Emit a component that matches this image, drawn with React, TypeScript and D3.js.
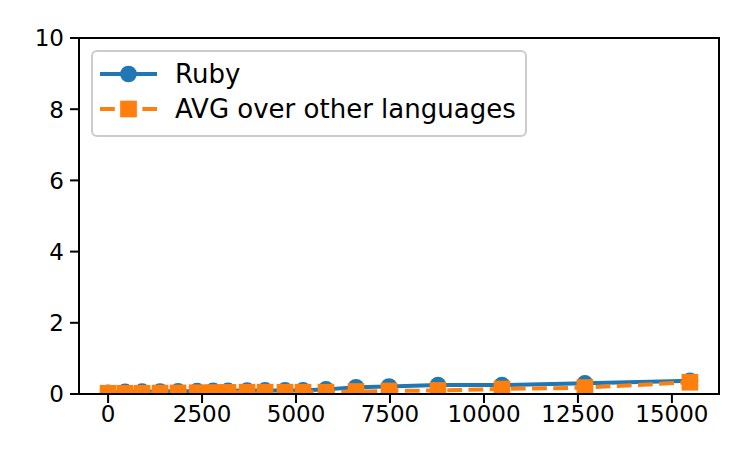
import React from "react";
import * as d3 from "d3";

const xValues = [0, 452, 904, 1383, 1862, 2367, 2793, 3191, 3697, 4176, 4707, 5186, 5798, 6596, 7473, 8777, 10479, 12686, 15479];
const rubyValues = [0.03, 0.06, 0.065, 0.07, 0.075, 0.08, 0.085, 0.09, 0.095, 0.1, 0.1, 0.1, 0.13, 0.19, 0.21, 0.25, 0.25, 0.3, 0.37];
const avgValues = [0.02, 0.02, 0.02, 0.025, 0.03, 0.035, 0.04, 0.045, 0.05, 0.05, 0.05, 0.05, 0.05, 0.07, 0.085, 0.1, 0.14, 0.18, 0.33];
const xTicks = [0, 2500, 5000, 7500, 10000, 12500, 15000];
const yTicks = [0, 2, 4, 6, 8, 10];
const seriesNames = ["Ruby", "AVG over other languages"];

const BLUE = "#1f77b4";
const ORANGE = "#ff7f0e";
const FONT = "DejaVu Sans";

export default function App() {
  const left = 79, right = 719, top = 38, bottom = 394;
  const x = d3.scaleLinear().domain([-774, 16253]).range([left, right]);
  const y = d3.scaleLinear().domain([0, 10]).range([bottom, top]);
  const line = d3.line<[number, number]>().x(d => x(d[0])).y(d => y(d[1]));
  const ruby: [number, number][] = xValues.map((v, i) => [v, rubyValues[i]]);
  const avg: [number, number][] = xValues.map((v, i) => [v, avgValues[i]]);
  const ms = 16.7;
  const lw = 4;
  const tickFs = 23;
  const legFs = 26;

  return (
    <svg width={747} height={467} style={{ position: "absolute", left: 0, top: 0, background: "#fff" }} fontFamily={FONT}>
      <defs>
        <clipPath id="plotclip">
          <rect x={left} y={top} width={right - left} height={bottom - top} />
        </clipPath>
      </defs>
      <rect x={0} y={0} width={747} height={467} fill="#fff" />
      <g clipPath="url(#plotclip)">
        <path d={line(ruby) || ""} fill="none" stroke={BLUE} strokeWidth={lw} strokeLinejoin="round" strokeLinecap="square" />
        {ruby.map((d, i) => (
          <circle key={"r" + i} cx={x(d[0])} cy={y(d[1])} r={ms / 2} fill={BLUE} />
        ))}
        <path d={line(avg) || ""} fill="none" stroke={ORANGE} strokeWidth={lw} strokeDasharray="14.8,6.4" strokeLinejoin="round" />
        {avg.map((d, i) => (
          <rect key={"a" + i} x={x(d[0]) - ms / 2} y={y(d[1]) - ms / 2} width={ms} height={ms} fill={ORANGE} />
        ))}
      </g>
      <rect x={left} y={top} width={right - left} height={bottom - top} fill="none" stroke="#000" strokeWidth={2} />
      {xTicks.map(t => (
        <g key={"xt" + t}>
          <line x1={x(t)} x2={x(t)} y1={bottom} y2={bottom + 9} stroke="#000" strokeWidth={2} />
          <text x={x(t)} y={422} textAnchor="middle" fontSize={tickFs} fill="#000">{t}</text>
        </g>
      ))}
      {yTicks.map(t => (
        <g key={"yt" + t}>
          <line x1={left - 9} x2={left} y1={y(t)} y2={y(t)} stroke="#000" strokeWidth={2} />
          <text x={64} y={y(t) + 0.365 * tickFs} textAnchor="end" fontSize={tickFs} fill="#000">{t}</text>
        </g>
      ))}
      <rect x={92} y={51} width={434} height={85} rx={5} ry={5} fill="#fff" fillOpacity={0.8} stroke="#cccccc" strokeWidth={2} />
      <line x1={100} x2={157} y1={74} y2={74} stroke={BLUE} strokeWidth={lw} />
      <circle cx={128.5} cy={74} r={ms / 2} fill={BLUE} />
      <text x={175} y={74 + 0.365 * legFs} fontSize={legFs} fill="#000">{seriesNames[0]}</text>
      <line x1={100} x2={157} y1={109} y2={109} stroke={ORANGE} strokeWidth={lw} strokeDasharray="14.8,6.4" />
      <rect x={128.5 - ms / 2} y={109 - ms / 2} width={ms} height={ms} fill={ORANGE} />
      <text x={175} y={109 + 0.365 * legFs} fontSize={legFs} fill="#000">{seriesNames[1]}</text>
    </svg>
  );
}
